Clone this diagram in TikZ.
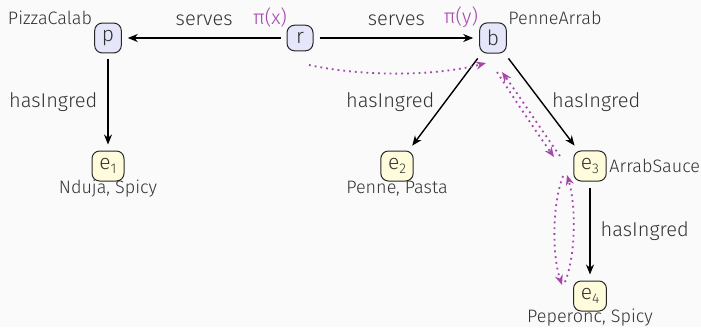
\documentclass[tikz,border=0pt]{standalone}
\usepackage{fontspec}
\setmainfont{Fira Sans}[UprightFont={* Light}]
\usetikzlibrary{arrows.meta}
\definecolor{bgc}{RGB}{250,250,250}
\definecolor{txt}{RGB}{51,51,51}
\definecolor{entfill}{RGB}{230,230,250}
\definecolor{valfill}{RGB}{255,252,220}
\definecolor{prov}{RGB}{165,70,175}
\newcommand{\subidx}[1]{\raisebox{-0.4ex}{\scriptsize #1}}
\begin{document}
\begin{tikzpicture}[x=0.5pt,y=-0.5pt,
  font=\fontsize{10}{12}\selectfont, text=txt,
  ent/.style={draw=black!85, line width=0.5pt, rounded corners=3.8pt, fill=entfill,
    inner sep=3.6pt, minimum width=13pt, font=\fontsize{10.5}{12}\selectfont},
  val/.style={draw=black!85, line width=0.5pt, rounded corners=3.8pt, fill=valfill,
    inner sep=3.6pt, minimum width=16pt, font=\fontsize{10.5}{12}\selectfont},
  tag/.style={font=\fontsize{9}{11}\selectfont, inner sep=0pt},
  pi/.style={text=prov, inner sep=0pt},
  rel/.style={draw=black, line width=0.7pt, -{Stealth[length=5pt,width=4pt]},
    shorten <=3pt, shorten >=3pt},
  lbl/.style={inner sep=0pt},
  flow/.style={draw=prov, line width=0.9pt, dash pattern=on 0.9pt off 2pt,
    -{Stealth[length=5pt,width=4pt]}}
]
\fill[bgc] (0,0) rectangle (701,327);
\useasboundingbox (0,0) rectangle (701,327);

% entity nodes
\node[ent] (p) at (108,38) {p};
\node[ent] (r) at (300,38) {r};
\node[ent] (b) at (493,38) {b};
% ingredient nodes
\node[val] (e1) at (108,166) {e\subidx{1}};
\node[val] (e2) at (397,166) {e\subidx{2}};
\node[val] (e3) at (590,166) {e\subidx{3}};
\node[val] (e4) at (590,296) {e\subidx{4}};

% names and properties
\node[tag] (np) at (50,18) {PizzaCalab};
\node[tag] (nb) at (555,18) {PenneArrab};
\node[tag, anchor=west] (ns) at (609,166) {ArrabSauce};
\node[tag] (t1) at (108,189) {Nduja, Spicy};
\node[tag] (t2) at (397,189) {Penne, Pasta};
\node[tag] (t4) at (590,318) {Peperonc, Spicy};

% projection marks
\node[pi] (px) at (270,17) {π(x)};
\node[pi] (py) at (461,17) {π(y)};

% relations
\draw[rel] (r) -- node[lbl, yshift=9pt] {serves} (p);
\draw[rel] (r) -- node[lbl, yshift=9pt] {serves} (b);
\draw[rel] (p) -- node[lbl, anchor=east, xshift=-5pt] {hasIngred} (e1);
\draw[rel] (b) -- node[lbl, anchor=east, xshift=-5pt] {hasIngred} (e2);
\draw[rel] (b) -- node[lbl, anchor=west, xshift=5pt] {hasIngred} (e3);
\draw[rel] (e3) -- node[lbl, anchor=west, xshift=5pt] {hasIngred} (e4);

% traversal paths
\coordinate (a0) at (309,65);
\coordinate (a1) at (486,63);
\coordinate (c0) at (497,72);
\coordinate (c1) at (554,157);
\coordinate (d0) at (560,156);
\coordinate (d1) at (502,72);
\coordinate (f0) at (563,176);
\coordinate (f1) at (562,285);
\coordinate (g0) at (565,282);
\coordinate (g1) at (567,175);

\draw[flow] (a0) .. controls (370,78) and (440,75) .. (a1);
\draw[flow] (c0) .. controls (515,100) and (535,130) .. (c1);
\draw[flow] (d0) .. controls (540,128) and (522,100) .. (d1);
\draw[flow] (f0) .. controls (552,205) and (552,255) .. (f1);
\draw[flow] (g0) .. controls (576,255) and (576,205) .. (g1);
\end{tikzpicture}
\end{document}
